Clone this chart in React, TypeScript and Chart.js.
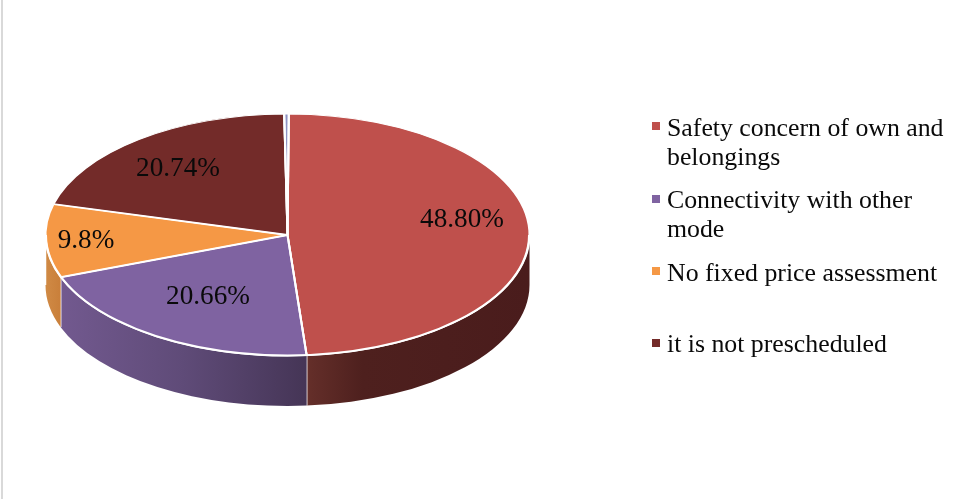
import React, { useEffect, useRef } from "react";
import { Chart, registerables } from "chart.js";

Chart.register(...registerables);

const categories = [
  "Safety concern of own and belongings",
  "Connectivity with other mode",
  "No fixed price assessment",
  "it is not prescheduled",
  "Other",
];
const shares = [48.8, 20.66, 9.8, 20.74, 0.3];
const valueLabels = ["48.80%", "20.66%", "9.8%", "20.74%", ""];
const sliceColors = ["#bf504c", "#7f63a1", "#f59845", "#732b29", "#8e93c4"];
const legendLines = [
  ["Safety concern of own and", "belongings"],
  ["Connectivity with other", "mode"],
  ["No fixed price assessment"],
  ["it is not prescheduled"],
];

const CX = 287.5;
const CY = 235;
const RX = 242;
const RY = 121;
const DEPTH = 50;
const FONT = '"Liberation Serif", "Times New Roman", serif';

const sideStops: Array<Array<[number, string]>> = [
  [[0, "#652f2a"], [0.25, "#4e201e"], [1, "#4a1c1c"]],
  [[0, "#72598f"], [0.5, "#5f4b78"], [1, "#453556"]],
  [[0, "#d08a45"], [1, "#c97f3a"]],
];

const labelCenters = [
  [462, 220],
  [208, 297],
  [86, 241],
  [178, 169],
];
const legendBaselines = [
  [136, 165],
  [208, 237],
  [281],
  [352],
];
const legendMarkerTops = [122, 195, 267, 339];

const pie3d = {
  id: "pie3d",
  beforeDatasetsDraw(chart: any) {
    const ctx = chart.ctx as CanvasRenderingContext2D;
    const arcs = chart.getDatasetMeta(0).data;

    ctx.save();
    ctx.fillStyle = "#d9d9d9";
    ctx.fillRect(1, 0, 2, 499);
    ctx.restore();

    arcs.forEach((arc: any, i: number) => {
      const stops = sideStops[i];
      if (!stops) return;
      const a0 = Math.max(arc.startAngle, 0);
      const a1 = Math.min(arc.endAngle, Math.PI);
      if (a1 <= a0) return;
      const x0 = CX + RX * Math.cos(a0);
      const x1 = CX + RX * Math.cos(a1);
      const grad = ctx.createLinearGradient(Math.min(x0, x1), 0, Math.max(x0, x1), 0);
      stops.forEach(([p, c]) => grad.addColorStop(p, c));
      ctx.save();
      ctx.beginPath();
      ctx.ellipse(CX, CY, RX, RY, 0, a0, a1, false);
      ctx.ellipse(CX, CY + DEPTH, RX, RY, 0, a1, a0, true);
      ctx.closePath();
      ctx.fillStyle = grad;
      ctx.fill();
      ctx.strokeStyle = "#ffffff";
      ctx.lineWidth = 1.5;
      ctx.beginPath();
      ctx.moveTo(x1, CY + RY * Math.sin(a1));
      ctx.lineTo(x1, CY + DEPTH + RY * Math.sin(a1));
      ctx.stroke();
      ctx.restore();
    });

    const c = arcs[0];
    ctx.save();
    ctx.translate(CX, CY);
    ctx.scale(1, RY / RX);
    ctx.translate(-c.x, -c.y);
  },
  afterDatasetsDraw(chart: any) {
    const ctx = chart.ctx as CanvasRenderingContext2D;
    const arcs = chart.getDatasetMeta(0).data;
    ctx.restore();

    // even-width white rim and radial seams on the squashed top surface
    ctx.save();
    ctx.strokeStyle = "#ffffff";
    ctx.lineWidth = 2;
    ctx.beginPath();
    ctx.ellipse(CX, CY, RX - 0.5, RY - 0.5, 0, 0, Math.PI);
    ctx.stroke();
    arcs.forEach((arc: any) => {
      ctx.beginPath();
      ctx.moveTo(CX, CY);
      ctx.lineTo(CX + RX * Math.cos(arc.endAngle), CY + RY * Math.sin(arc.endAngle));
      ctx.stroke();
    });
    ctx.restore();

    ctx.save();
    ctx.fillStyle = "#0a0a0a";
    ctx.textAlign = "center";
    ctx.textBaseline = "middle";
    ctx.font = `27.2px ${FONT}`;
    labelCenters.forEach(([x, y], i) => ctx.fillText(valueLabels[i], x, y));

    ctx.textAlign = "left";
    ctx.textBaseline = "alphabetic";
    ctx.font = `25.8px ${FONT}`;
    legendLines.forEach((lines, i) => {
      ctx.fillStyle = sliceColors[i];
      ctx.fillRect(652, legendMarkerTops[i], 8, 8);
      ctx.fillStyle = "#0a0a0a";
      lines.forEach((line, j) => ctx.fillText(line, 667, legendBaselines[i][j]));
    });
    ctx.restore();
  },
};

export default function App() {
  const ref = useRef<HTMLCanvasElement>(null);
  useEffect(() => {
    if (!ref.current) return;
    const chart = new Chart(ref.current, {
      type: "pie",
      data: {
        labels: categories,
        datasets: [
          {
            data: shares,
            backgroundColor: sliceColors,
            borderColor: "#ffffff",
            borderWidth: 2,
            radius: RX,
            clip: false,
          } as any,
        ],
      },
      options: {
        responsive: false,
        animation: false,
        events: [],
        rotation: 0.3,
        layout: { padding: { left: 47, right: 447, top: 0, bottom: 29 } },
        plugins: { legend: { display: false }, tooltip: { enabled: false }, title: { display: false } },
      },
      plugins: [pie3d],
    });
    return () => chart.destroy();
  }, []);
  return (
    <div style={{ position: "absolute", left: 0, top: 0, width: 976, height: 499, background: "#fff", overflow: "hidden" }}>
      <canvas ref={ref} width={976} height={499} style={{ display: "block" }} />
    </div>
  );
}
